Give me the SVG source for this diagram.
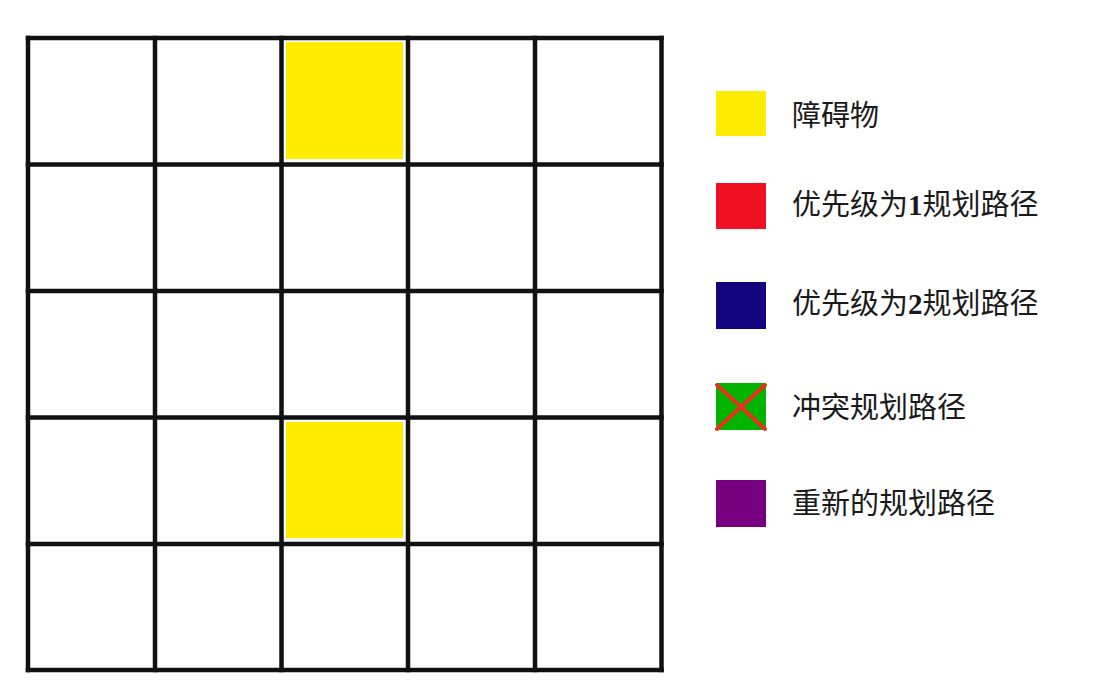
<svg xmlns="http://www.w3.org/2000/svg" width="1096" height="681" viewBox="0 0 1096 681">
<style>
.grid line{stroke:#111;stroke-width:4.5;stroke-linecap:square}
.obs{fill:#FFEC00}
.lbl{font-family:"Liberation Serif","Noto Sans CJK SC",serif;font-size:29px;fill:#1a1a1a}
.num{font-weight:bold}
</style>
<rect width="1096" height="681" fill="#fff"/>
<g id="obstacles">
<rect id="obstacle1" class="obs" x="286" y="42" width="117" height="117"/>
<rect id="obstacle2" class="obs" x="286" y="422" width="117" height="116"/>
</g>
<g id="grid" class="grid">
<line x1="28" y1="38" x2="661.5" y2="38"/>
<line x1="28" y1="164.5" x2="661.5" y2="164.5"/>
<line x1="28" y1="291" x2="661.5" y2="291"/>
<line x1="28" y1="417.5" x2="661.5" y2="417.5"/>
<line x1="28" y1="544" x2="661.5" y2="544"/>
<line x1="28" y1="670" x2="661.5" y2="670"/>
<line x1="28" y1="38" x2="28" y2="670"/>
<line x1="155" y1="38" x2="155" y2="670"/>
<line x1="281.5" y1="38" x2="281.5" y2="670"/>
<line x1="408" y1="38" x2="408" y2="670"/>
<line x1="535" y1="38" x2="535" y2="670"/>
<line x1="661.5" y1="38" x2="661.5" y2="670"/>
</g>
<g id="legend">
<g id="legend-obstacle">
<rect x="716" y="91" width="50" height="45" fill="#FFEC00"/>
<text class="lbl" x="792" y="126">障碍物</text>
</g>
<g id="legend-p1">
<rect x="716" y="183" width="50" height="46" fill="#EE1122"/>
<text class="lbl" x="792" y="215">优先级为<tspan class="num">1</tspan>规划路径</text>
</g>
<g id="legend-p2">
<rect x="716" y="282" width="50" height="47" fill="#12057E"/>
<text class="lbl" x="792" y="314">优先级为<tspan class="num">2</tspan>规划路径</text>
</g>
<g id="legend-conflict">
<rect x="716" y="383" width="50" height="47" fill="#00B400"/>
<line x1="717" y1="429" x2="765" y2="385" stroke="#E8301E" stroke-width="4" stroke-linecap="round"/>
<line x1="717" y1="385" x2="765" y2="429" stroke="#E8301E" stroke-width="4" stroke-linecap="round"/>
<text class="lbl" x="792" y="418">冲突规划路径</text>
</g>
<g id="legend-replan">
<rect x="716" y="480" width="50" height="47" fill="#760080"/>
<text class="lbl" x="792" y="514">重新的规划路径</text>
</g>
</g>
</svg>
